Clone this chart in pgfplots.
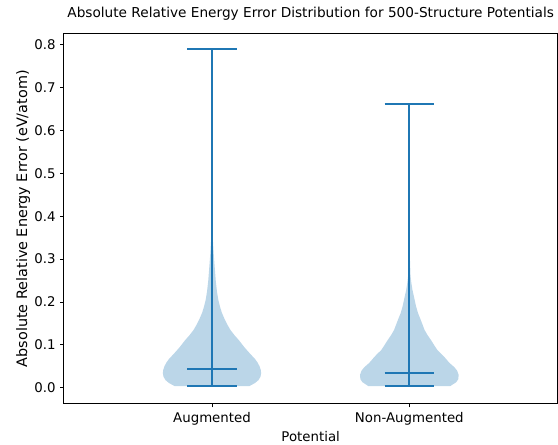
\documentclass[border=0pt]{standalone}
\usepackage{fontspec}
\setmainfont{DejaVu Sans}
\usepackage{pgfplots}
\pgfplotsset{compat=1.18}
\definecolor{c0}{HTML}{1F77B4}
\begin{document}
\begin{tikzpicture}
\begin{axis}[
  at={(0,0)}, anchor=south west,
  scale only axis, width=370pt, height=277.5pt,
  xmin=0.25, xmax=2.75, ymin=-0.0373, ymax=0.8257,
  xtick={1,2}, xticklabels={Augmented,Non-Augmented},
  ytick={0,0.1,0.2,0.3,0.4,0.5,0.6,0.7,0.8},
  yticklabel style={/pgf/number format/.cd, fixed, fixed zerofill, precision=1},
  /pgf/number format/assume math mode=true,
  tick align=outside, tick pos=left, major tick length=2.8pt,
  tick style={black, line width=0.6pt},
  axis line style={line width=0.75pt},
  title={Absolute Relative Energy Error Distribution for 500-Structure Potentials},
  title style={at={(axis description cs:0.5,1.0223)}, anchor=base, font=\fontsize{10.25}{12}\selectfont},
  xlabel={Potential},
  xlabel style={at={(axis description cs:0.5,-0.1009)}, anchor=base},
  ylabel={Absolute Relative Energy Error (eV/atom)},
  ylabel style={at={(axis description cs:-0.0749,0.5)}, anchor=base, font=\fontsize{10.8}{12}\selectfont},
]
% violin bodies
\addplot[fill=c0, fill opacity=0.3, draw=none] coordinates {
(1.190,0.004) (1.218,0.011) (1.236,0.018) (1.246,0.026) (1.249,0.034)
(1.247,0.042) (1.241,0.050) (1.232,0.058) (1.220,0.066) (1.204,0.074)
(1.184,0.084) (1.163,0.095) (1.138,0.110) (1.115,0.122) (1.093,0.135)
(1.077,0.148) (1.064,0.160) (1.050,0.175) (1.040,0.190) (1.032,0.205)
(1.025,0.225) (1.019,0.250) (1.014,0.280) (1.009,0.310) (1.005,0.340)
(1.003,0.380) (1.0015,0.450) (1.0008,0.550) (1.0,0.790)
(0.9992,0.550) (0.9985,0.450) (0.997,0.380) (0.995,0.340) (0.991,0.310)
(0.986,0.280) (0.981,0.250) (0.975,0.225) (0.968,0.205) (0.960,0.190)
(0.950,0.175) (0.936,0.160) (0.923,0.148) (0.907,0.135) (0.885,0.122)
(0.862,0.110) (0.837,0.095) (0.816,0.084) (0.796,0.074) (0.780,0.066)
(0.768,0.058) (0.759,0.050) (0.753,0.042) (0.751,0.034) (0.754,0.026)
(0.764,0.018) (0.782,0.011) (0.810,0.004)
} -- cycle;
\addplot[fill=c0, fill opacity=0.3, draw=none] coordinates {
(2.208,0.004) (2.238,0.013) (2.248,0.020) (2.250,0.030) (2.242,0.040)
(2.228,0.048) (2.203,0.058) (2.190,0.065) (2.177,0.072) (2.160,0.080)
(2.142,0.088) (2.125,0.100) (2.110,0.111) (2.092,0.123) (2.077,0.135)
(2.068,0.146) (2.058,0.158) (2.044,0.174) (2.034,0.190) (2.027,0.205)
(2.016,0.228) (2.010,0.245) (2.006,0.262) (2.003,0.300) (2.001,0.400)
(2.0,0.660)
(1.999,0.400) (1.997,0.300) (1.994,0.262) (1.990,0.245) (1.984,0.228)
(1.973,0.205) (1.966,0.190) (1.956,0.174) (1.942,0.158) (1.932,0.146)
(1.923,0.135) (1.908,0.123) (1.890,0.111) (1.875,0.100) (1.858,0.088)
(1.840,0.080) (1.823,0.072) (1.810,0.065) (1.797,0.058) (1.772,0.048)
(1.758,0.040) (1.750,0.030) (1.752,0.020) (1.762,0.013) (1.792,0.004)
} -- cycle;
% stems
\addplot[c0, line width=1.5pt] coordinates {(1,0.004) (1,0.790)};
\addplot[c0, line width=1.5pt] coordinates {(2,0.004) (2,0.661)};
% caps: max
\addplot[c0, line width=1.5pt] coordinates {(0.875,0.790) (1.125,0.790)};
\addplot[c0, line width=1.5pt] coordinates {(1.875,0.661) (2.125,0.661)};
% caps: min
\addplot[c0, line width=1.5pt] coordinates {(0.875,0.004) (1.125,0.004)};
\addplot[c0, line width=1.5pt] coordinates {(1.875,0.004) (2.125,0.004)};
% medians
\addplot[c0, line width=1.5pt] coordinates {(0.875,0.043) (1.125,0.043)};
\addplot[c0, line width=1.5pt] coordinates {(1.875,0.0336) (2.125,0.0336)};
\end{axis}
\pgfresetboundingbox
\useasboundingbox (-48pt,-30.2pt) rectangle (370.5pt,302.8pt);
\end{tikzpicture}
\end{document}
